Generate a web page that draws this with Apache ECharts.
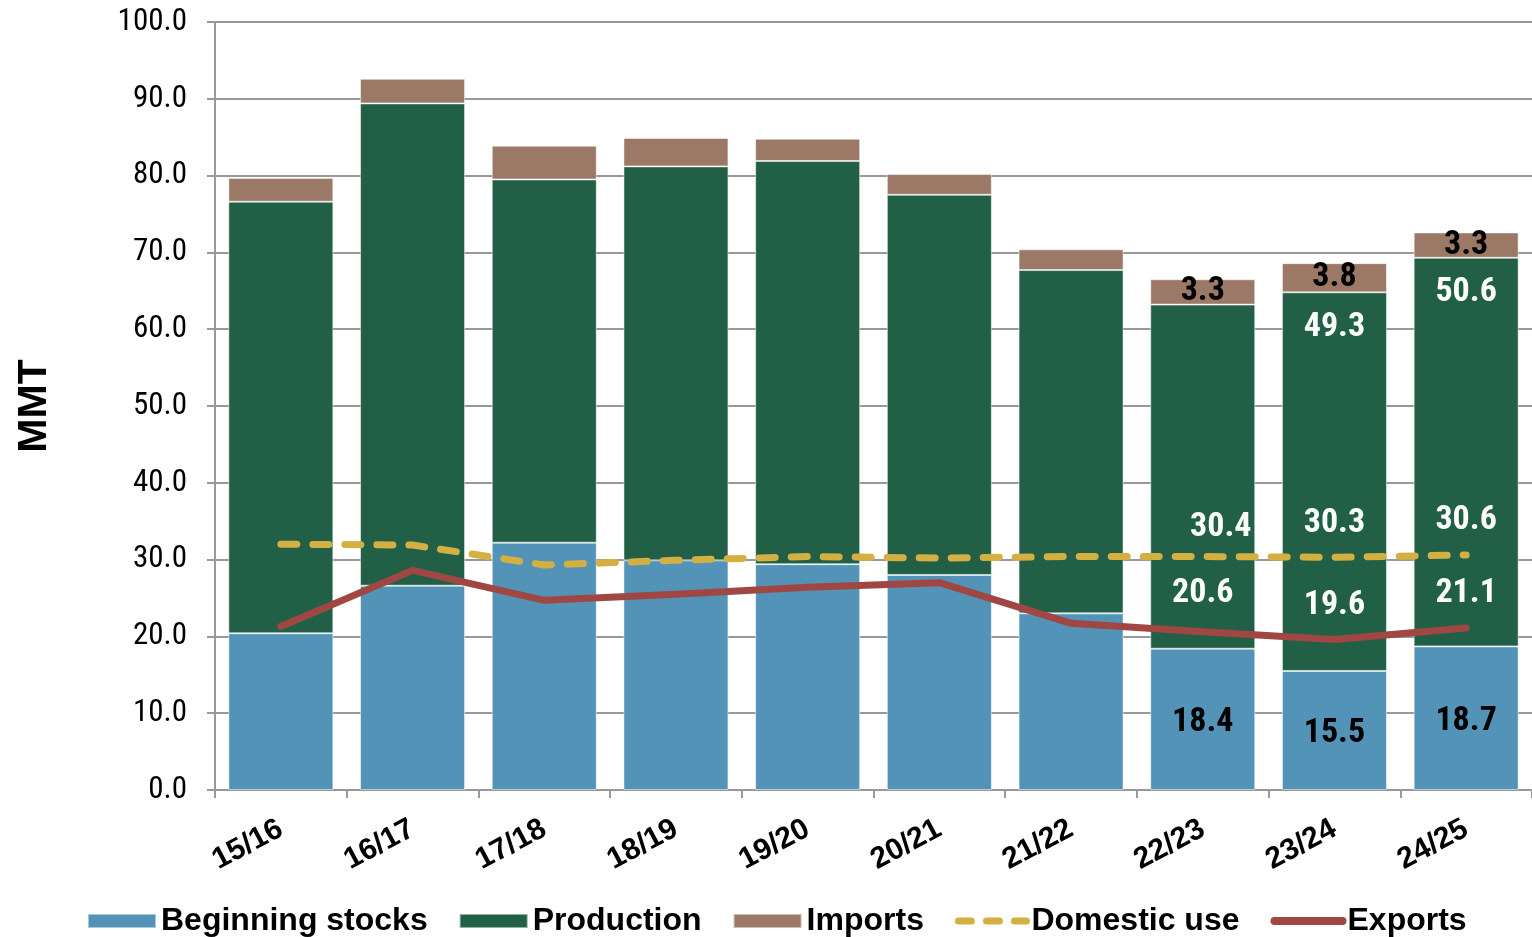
<!DOCTYPE html>
<html>
<head>
<meta charset="utf-8">
<script src="https://cdn.jsdelivr.net/npm/echarts@6/dist/echarts.min.js"></script>
<style>
  html, body { margin: 0; padding: 0; background: #ffffff; }
  #chart { width: 1532px; height: 937px; }
</style>
</head>
<body>
<div id="chart"></div>
<script>
const categories = ['15/16', '16/17', '17/18', '18/19', '19/20', '20/21', '21/22', '22/23', '23/24', '24/25'];
const beginningStocks = [20.4, 26.6, 32.2, 29.9, 29.4, 28.0, 23.0, 18.4, 15.5, 18.7];
const production = [56.2, 62.8, 47.3, 51.3, 52.5, 49.5, 44.7, 44.8, 49.3, 50.6];
const imports = [3.1, 3.2, 4.4, 3.7, 2.9, 2.7, 2.7, 3.3, 3.8, 3.3];
const domesticUse = [32.0, 31.9, 29.3, 29.9, 30.4, 30.2, 30.4, 30.4, 30.3, 30.6];
const exportsData = [21.3, 28.6, 24.7, 25.5, 26.4, 27.0, 21.7, 20.6, 19.6, 21.1];
const yTicks = [0, 10, 20, 30, 40, 50, 60, 70, 80, 90, 100];

// indices that carry value labels in the reference
const stocksLabelIdx = [7, 8, 9];
const productionLabelIdx = [8, 9];
const importsLabelIdx = [7, 8, 9];
const domesticLabelIdx = [7, 8, 9];
const exportsLabelIdx = [7, 8, 9];

const NARROW = "'Roboto Condensed', 'Noto Sans', Roboto, sans-serif";
const WIDE = "'Liberation Sans', Arial, sans-serif";

const labelBase = {
  show: true,
  fontFamily: NARROW,
  fontWeight: 'bold condensed',
  fontSize: 34,
  formatter: p => Number(p.value).toFixed(1)
};

function withLabels(values, idxs, labelFor) {
  return values.map((v, i) => idxs.includes(i)
    ? { value: v, label: Object.assign({}, labelBase, labelFor(i)) }
    : { value: v });
}

const chart = echarts.init(document.getElementById('chart'), null, { renderer: 'canvas' });

const hiddenSymbol = { color: 'rgba(0,0,0,0)', borderWidth: 0, opacity: 0 };

const option = {
  backgroundColor: '#ffffff',
  animation: false,
  grid: { left: 215, top: 22, width: 1320, height: 768, containLabel: false },
  legend: {
    left: 82,
    top: 900,
    itemWidth: 68,
    itemHeight: 14,
    itemGap: 31,
    textStyle: { fontFamily: WIDE, fontWeight: 'bold', fontSize: 32, color: '#000' },
    data: [
      { name: 'Beginning stocks', icon: 'rect' },
      { name: 'Production', icon: 'rect' },
      { name: 'Imports', icon: 'rect' },
      { name: 'Domestic use', lineStyle: { width: 7, type: [13, 15], cap: 'round', color: '#d4b043' }, itemStyle: hiddenSymbol },
      { name: 'Exports', lineStyle: { width: 8, type: 'solid', cap: 'round', color: '#a04743' }, itemStyle: hiddenSymbol }
    ]
  },
  xAxis: {
    type: 'category',
    data: categories,
    boundaryGap: true,
    axisLine: { show: true, lineStyle: { color: '#999', width: 2 } },
    axisTick: { show: true, length: 8, alignWithLabel: false, lineStyle: { color: '#999', width: 2 } },
    axisLabel: {
      rotate: 28,
      margin: 37,
      interval: 0,
      fontFamily: WIDE,
      fontWeight: 'bold',
      fontSize: 30,
      color: '#000'
    },
    splitLine: { show: false }
  },
  yAxis: {
    type: 'value',
    min: yTicks[0],
    max: yTicks[yTicks.length - 1],
    interval: 10,
    name: 'MMT',
    nameLocation: 'middle',
    nameRotate: 90,
    nameGap: 160,
    nameTextStyle: { fontFamily: WIDE, fontWeight: 'bold', fontSize: 41, color: '#000' },
    axisLine: { show: true, lineStyle: { color: '#999', width: 2 } },
    axisTick: { show: true, length: 8, lineStyle: { color: '#999', width: 2 } },
    axisLabel: {
      margin: 28,
      fontFamily: NARROW,
      fontWeight: 'normal condensed',
      fontSize: 31,
      color: '#000',
      formatter: v => v.toFixed(1)
    },
    splitLine: { show: true, lineStyle: { color: '#999', width: 2 } }
  },
  series: [
    {
      name: 'Beginning stocks',
      type: 'bar',
      stack: 'supply',
      barWidth: 105,
      itemStyle: { color: '#5393b8', borderColor: 'rgba(255,255,255,0.5)', borderWidth: 1 },
      data: withLabels(beginningStocks, stocksLabelIdx, () => ({ position: 'inside', offset: [0, 3], color: '#000' }))
    },
    {
      name: 'Production',
      type: 'bar',
      stack: 'supply',
      barWidth: 105,
      itemStyle: { color: '#216046', borderColor: 'rgba(255,255,255,0.5)', borderWidth: 1 },
      data: withLabels(production, productionLabelIdx, () => ({ position: 'insideTop', distance: 18, color: '#fff' }))
    },
    {
      name: 'Imports',
      type: 'bar',
      stack: 'supply',
      barWidth: 105,
      itemStyle: { color: '#9c7966', borderColor: 'rgba(255,255,255,0.5)', borderWidth: 1 },
      data: withLabels(imports, importsLabelIdx, () => ({ position: 'inside', color: '#000' }))
    },
    {
      name: 'Domestic use',
      type: 'line',
      symbol: 'circle',
      symbolSize: 0.01,
      showSymbol: true,
      z: 5,
      lineStyle: { color: '#d4b043', width: 7, type: [16, 16], cap: 'round' },
      itemStyle: { color: '#d4b043' },
      data: withLabels(domesticUse, domesticLabelIdx, i => (
        i === 7
          ? { position: 'top', distance: 12, offset: [18, 0], color: '#fff' }
          : { position: 'top', distance: 17, color: '#fff' }
      ))
    },
    {
      name: 'Exports',
      type: 'line',
      symbol: 'circle',
      symbolSize: 0.01,
      showSymbol: true,
      z: 5,
      lineStyle: { color: '#a04743', width: 7, cap: 'round', join: 'round' },
      itemStyle: { color: '#a04743' },
      data: withLabels(exportsData, exportsLabelIdx, i => (
        i === 7
          ? { position: 'top', distance: 21, color: '#fff' }
          : { position: 'top', distance: 17, color: '#fff' }
      ))
    }
  ]
};

chart.setOption(option);
</script>
</body>
</html>
